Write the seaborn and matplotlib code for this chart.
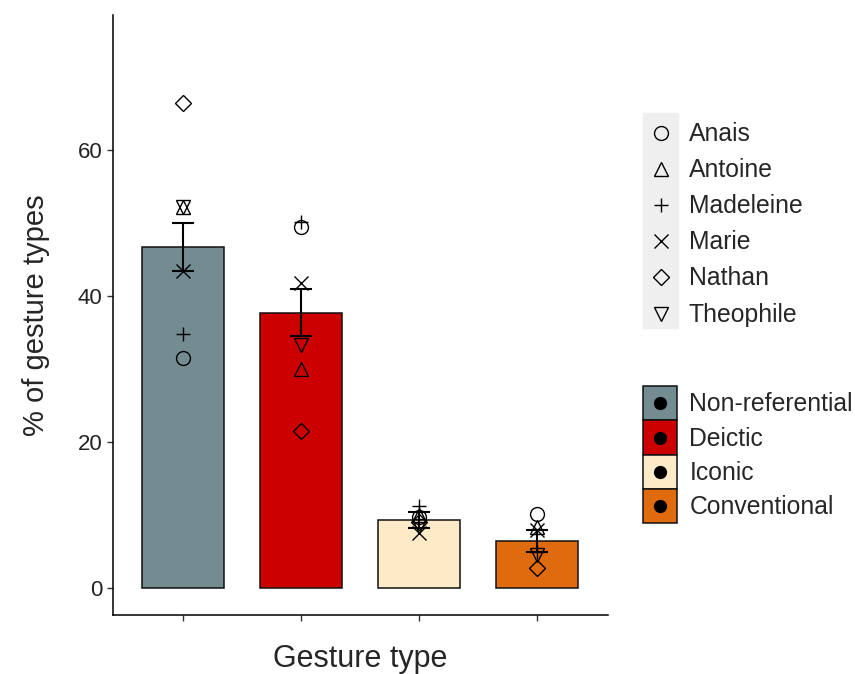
import numpy as np
import pandas as pd
import seaborn as sns
import matplotlib.pyplot as plt
from matplotlib.lines import Line2D
from matplotlib.patches import Patch, Rectangle
from matplotlib.legend_handler import HandlerTuple, HandlerLine2D

# données
types = ["Non-referential", "Deictic", "Iconic", "Conventional"]
couleurs = ["#728C92", "#CC0000", "#FCEBC6", "#E06A0E"]
enfants = ["Anais", "Antoine", "Madeleine", "Marie", "Nathan", "Theophile"]
marqueurs = ["o", "^", "+", "x", "D", "v"]

anais = [31.5, 49.5, 9.8, 10.2]
antoine = [52.2, 30.0, 10.0, 8.3]
madeleine = [34.8, 50.2, 11.2, 5.0]
marie = [43.4, 41.8, 7.5, 7.9]
nathan = [66.5, 21.5, 9.0, 2.7]
theophile = [52.2, 33.3, 8.5, 4.5]

erreur = [3.3, 3.2, 1.1, 1.45]

valeurs = [anais, antoine, madeleine, marie, nathan, theophile]
df = pd.DataFrame(
    [(e, t, v[i]) for e, v in zip(enfants, valeurs) for i, t in enumerate(types)],
    columns=["enfant", "type", "pct"],
)


class HandlerCentre(HandlerLine2D):
    # place le marqueur au centre vertical de la case de légende
    def create_artists(self, legend, orig_handle, xdescent, ydescent,
                       width, height, fontsize, trans):
        arts = super().create_artists(legend, orig_handle, xdescent, ydescent,
                                      width, height, fontsize, trans)
        for a in arts:
            a.set_ydata(np.asarray(a.get_ydata()) - ydescent / 2)
        return arts


sns.set_style("white")
plt.rcParams["font.family"] = ["Liberation Sans", "DejaVu Sans"]

fig = plt.figure(figsize=(8.55, 6.74), dpi=100)
ax = fig.add_axes([0.132, 0.0875, 0.579, 0.890])

sns.barplot(data=df, x="type", y="pct", order=types, hue="type", hue_order=types,
            palette=couleurs, saturation=1, errorbar=None, width=0.7,
            edgecolor="#111111", linewidth=1.1, legend=False, ax=ax)

moyennes = df.groupby("type")["pct"].mean().reindex(types).values
pos = np.arange(len(types))
ax.errorbar(pos, moyennes, yerr=erreur, fmt="none", ecolor="black",
            elinewidth=1.5, capsize=8, capthick=1.5, zorder=4)

for e, m, v in zip(enfants, marqueurs, valeurs):
    ms = 8.5 if m == "D" else 10
    ax.plot(pos, v, ls="none", marker=m, ms=ms, mfc="none", mec="black",
            mew=1.0, color="black", zorder=5)

ax.set_xlim(-0.593, 3.60)
ax.set_ylim(-3.7, 78.5)
ax.set_yticks([0, 20, 40, 60])
ax.set_xticks(pos)
ax.set_xticklabels([])
ax.tick_params(axis="both", length=4, width=1, color="#333333",
               labelsize=16, labelcolor="#222222", left=True, bottom=True)
for s in ["top", "right"]:
    ax.spines[s].set_visible(False)
for s in ["left", "bottom"]:
    ax.spines[s].set_color("black")
    ax.spines[s].set_linewidth(1.1)

ax.set_xlabel("Gesture type", fontsize=22, labelpad=13.5)
ax.set_ylabel("% of gesture types", fontsize=21, labelpad=20)

# légende des enfants (formes)
poignees1 = [Line2D([], [], ls="none", marker=m, ms=(8.5 if m == "D" else 10),
                    mfc="none", mec="black", mew=1.0, color="black")
             for m in marqueurs]
fig.legend(poignees1, enfants, loc="upper left",
           bbox_to_anchor=(643 / 855, 1 - 115 / 674), frameon=False,
           fontsize=17.8, handlelength=1.42, handleheight=1.87,
           labelspacing=0, handletextpad=0.44, borderpad=0, borderaxespad=0,
           handler_map={Line2D: HandlerCentre()})
fig.add_artist(Rectangle((643 / 855, 1 - 328 / 674), 35 / 855, 215 / 674,
                         transform=fig.transFigure, color="#EFEFEF", zorder=1))

# légende des types (couleurs)
poignees2 = [(Patch(facecolor=c, edgecolor="#111111", linewidth=1.1),
              Line2D([], [], ls="none", marker="o", ms=8.5, color="black"))
             for c in couleurs]
fig.legend(poignees2, types, loc="upper left",
           bbox_to_anchor=(643 / 855, 1 - 386 / 674), frameon=False,
           fontsize=17.8, handlelength=1.38, handleheight=1.76,
           labelspacing=0, handletextpad=0.5, borderpad=0, borderaxespad=0,
           handler_map={tuple: HandlerTuple(ndivide=1, pad=0),
                        Line2D: HandlerCentre()})

fig.savefig("out.png", dpi=100)
